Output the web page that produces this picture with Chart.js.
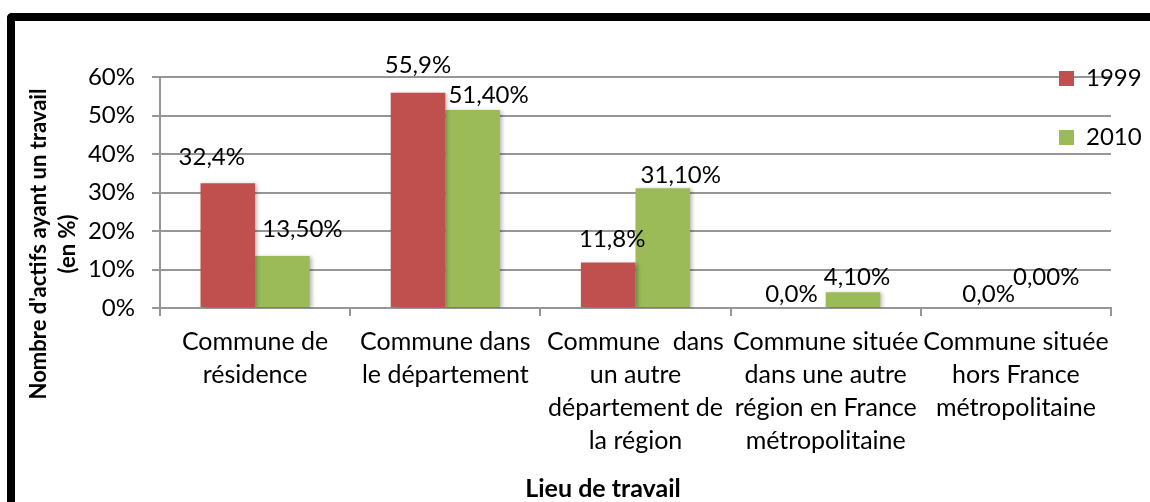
<!DOCTYPE html>
<html><head><meta charset="utf-8">
<script src="https://cdn.jsdelivr.net/npm/chart.js@4.4.1/dist/chart.umd.min.js"></script>
<style>
html,body{margin:0;padding:0;background:#fff;width:1150px;height:502px;overflow:hidden;}
#frame{position:absolute;left:7px;top:13px;width:1200px;height:600px;border-left:8px solid #000;border-top:8px solid #000;border-top-left-radius:5px;box-sizing:border-box;}
#c{position:absolute;left:0;top:0;}
</style></head><body>
<div id="frame"></div>
<canvas id="c" width="1150" height="502"></canvas>
<script>
const categories = [
  ['Commune de', 'résidence'],
  ['Commune dans', 'le département'],
  ['Commune  dans', 'un autre', 'département de', 'la région'],
  ['Commune située', 'dans une autre', 'région en France', 'métropolitaine'],
  ['Commune située', 'hors France', 'métropolitaine']
];
const seriesNames = ['1999', '2010'];
const values1999 = [32.4, 55.9, 11.8, 0.0, 0.0];
const values2010 = [13.5, 51.4, 31.1, 4.1, 0.0];
const labelDecimals = [1, 2];
const yTickLabels = ['0%', '10%', '20%', '30%', '40%', '50%', '60%'];
const yAxisTitle = ["Nombre d'actifs ayant un travail", '(en %)'];
const xAxisTitle = 'Lieu de travail';

const FONT = 'Lato';
const TXT = 24;
const CAT = 25;
const GRID = '#969696';

// label placement offsets (dx, dy of baseline) relative to bar top centre
const labelOffsets = [
  [[-16, -18], [0, -20], [4, -16], [-7, -6], [0, -6]],
  [[20, -19], [16, -7], [18, -5], [4, -7], [3, -23]]
];

const fmt = (v, d) => v.toFixed(d).replace('.', ',') + '%';

const shadowPlugin = {
  id: 'barShadow',
  beforeDatasetsDraw(chart) {
    const ctx = chart.ctx;
    ctx.save();
    ctx.shadowColor = 'rgba(0,0,0,0.28)';
    ctx.shadowBlur = 4;
    ctx.shadowOffsetX = 2;
    ctx.shadowOffsetY = 1;
  },
  afterDatasetsDraw(chart) {
    chart.ctx.restore();
  }
};

const labelPlugin = {
  id: 'valueLabels',
  afterDatasetsDraw(chart) {
    const ctx = chart.ctx;
    ctx.save();
    ctx.font = TXT + 'px ' + FONT;
    ctx.fillStyle = '#000';
    ctx.textAlign = 'center';
    ctx.textBaseline = 'alphabetic';
    chart.data.datasets.forEach((ds, di) => {
      chart.getDatasetMeta(di).data.forEach((bar, i) => {
        const o = labelOffsets[di][i];
        ctx.fillText(fmt(ds.data[i], labelDecimals[di]), bar.x + o[0], bar.y + o[1]);
      });
    });
    ctx.restore();
  }
};

const titlePlugin = {
  id: 'axisTitles',
  afterDraw(chart) {
    const ctx = chart.ctx;
    ctx.save();
    ctx.fillStyle = '#000';
    ctx.textAlign = 'center';
    ctx.textBaseline = 'alphabetic';
    ctx.font = 'bold 22px ' + FONT;
    const xs = [46, 75];
    yAxisTitle.forEach((t, i) => {
      ctx.save();
      ctx.translate(xs[i], 244);
      ctx.rotate(-Math.PI / 2);
      ctx.fillText(t, 0, 0);
      ctx.restore();
    });
    ctx.font = 'bold 25px ' + FONT;
    ctx.fillText(xAxisTitle, 603, 497);
    ctx.restore();
  }
};

const legendPlace = {
  id: 'legendPlace',
  afterLayout(chart) {
    const lg = chart.legend;
    if (!lg) return;
    const pad = 35;
    lg.left = 1059 - pad;
    lg.right = 1150;
    lg.width = lg.right - lg.left;
    lg.top = 66.5 - pad;
    lg.bottom = 502;
    lg.height = lg.bottom - lg.top;
  }
};

new Chart(document.getElementById('c'), {
  type: 'bar',
  data: {
    labels: categories,
    datasets: [
      { label: seriesNames[0], data: values1999, backgroundColor: '#C0504D', borderWidth: 0 },
      { label: seriesNames[1], data: values2010, backgroundColor: '#9BBB59', borderWidth: 0 }
    ]
  },
  options: {
    responsive: false,
    devicePixelRatio: 1,
    animation: false,
    layout: { padding: { left: 0, right: 39, top: 77, bottom: 0 } },
    datasets: { bar: { categoryPercentage: 0.574, barPercentage: 1 } },
    plugins: {
      legend: {
        position: 'chartArea',
        align: 'start',
        labels: {
          boxWidth: 15, boxHeight: 15, padding: 35, color: '#000',
          font: { family: FONT, size: TXT }
        }
      },
      tooltip: { enabled: false }
    },
    scales: {
      x: {
        grid: { offset: true, drawOnChartArea: false, drawTicks: true, tickLength: 8, color: GRID, lineWidth: 2 },
        border: { display: true, color: GRID, width: 2 },
        ticks: { color: '#000', padding: 9, maxRotation: 0, autoSkip: false, font: { family: FONT, size: CAT, lineHeight: 33 / CAT } },
        afterFit(s) { s.height = 502 - 308; }
      },
      y: {
        min: 0, max: 60,
        grid: { color: GRID, lineWidth: 2, tickLength: 8, drawTicks: true },
        border: { display: true, color: GRID, width: 2 },
        ticks: {
          stepSize: 10, color: '#000', padding: 17,
          font: { family: FONT, size: TXT },
          callback: (v, i) => yTickLabels[i]
        },
        afterFit(s) { s.width = 160; }
      }
    }
  },
  plugins: [legendPlace, shadowPlugin, labelPlugin, titlePlugin]
});
</script>
</body></html>
